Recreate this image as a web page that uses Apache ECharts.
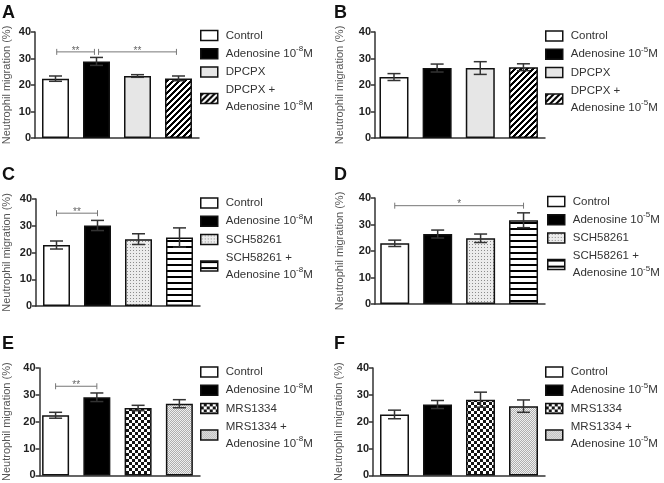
<!DOCTYPE html>
<html><head><meta charset="utf-8">
<script src="https://cdn.jsdelivr.net/npm/echarts@6/dist/echarts.min.js"></script>
<style>html,body{margin:0;padding:0;background:#fff}#c{width:664px;height:483px}</style>
</head><body><div id="c"></div>
<script>
// ---------------- data ----------------
const panelIds = ['A', 'B', 'C', 'D', 'E', 'F'];
const yTicks = [0, 10, 20, 30, 40];
const yName = 'Neutrophil migration (%)';

const labelsA = ['Control', 'Adenosine 10^-8M', 'DPCPX', 'DPCPX +\nAdenosine 10^-8M'];
const labelsB = ['Control', 'Adenosine 10^-5M', 'DPCPX', 'DPCPX +\nAdenosine 10^-5M'];
const labelsC = ['Control', 'Adenosine 10^-8M', 'SCH58261', 'SCH58261 +\nAdenosine 10^-8M'];
const labelsD = ['Control', 'Adenosine 10^-5M', 'SCH58261', 'SCH58261 +\nAdenosine 10^-5M'];
const labelsE = ['Control', 'Adenosine 10^-8M', 'MRS1334', 'MRS1334 +\nAdenosine 10^-8M'];
const labelsF = ['Control', 'Adenosine 10^-5M', 'MRS1334', 'MRS1334 +\nAdenosine 10^-5M'];

const meansA = [22.4, 28.9, 23.4, 22.5];
const semsA  = [1.0, 1.5, 0.5, 0.9];
const meansB = [23.0, 26.4, 26.4, 26.7];
const semsB  = [1.3, 1.5, 2.4, 1.3];
const meansC = [22.8, 30.1, 25.0, 25.6];
const semsC  = [1.5, 1.9, 2.0, 3.6];
const meansD = [22.9, 26.4, 24.8, 31.6];
const semsD  = [1.2, 1.5, 1.6, 2.8];
const meansE = [22.4, 29.1, 25.1, 26.7];
const semsE  = [1.1, 1.6, 1.0, 1.5];
const meansF = [22.7, 26.4, 28.2, 25.8];
const semsF  = [1.6, 1.5, 2.8, 2.3];

// significance brackets: [from group, to group, height, mark]
const sigA = [[0.03, 0.95, 32.5, '**'], [1.05, 2.95, 32.5, '**']];
const sigB = [];
const sigC = [[0.0, 1.0, 34.7, '**']];
const sigD = [[0.0, 3.0, 37.1, '*']];
const sigE = [[0.0, 1.0, 33.2, '**']];
const sigF = [];

// ---------------- styles / layout ----------------
const labelsAll = [labelsA, labelsB, labelsC, labelsD, labelsE, labelsF];
const meansAll = [meansA, meansB, meansC, meansD, meansE, meansF];
const semsAll = [semsA, semsB, semsC, semsD, semsE, semsF];
const sigAll = [sigA, sigB, sigC, sigD, sigE, sigF];
const fillsAll = [
  ['white', 'black', 'light', 'hatch'],
  ['white', 'black', 'light', 'hatch'],
  ['white', 'black', 'dots', 'hstripes'],
  ['white', 'black', 'dots', 'hstripes'],
  ['white', 'black', 'checker', 'fine'],
  ['white', 'black', 'checker', 'fine']
];
const layout = [
  {left: 35, top: 32, width: 164, height: 106, xmin: -0.5, barW: 27, lx: 200, ly: 27, tx: 2, ty: 4, ng: 23},
  {left: 375, top: 32, width: 170, height: 106, xmin: -0.44, barW: 29, lx: 545, ly: 27.5, tx: 334, ty: 4, ng: 30},
  {left: 36, top: 199, width: 164, height: 107, xmin: -0.5, barW: 27, lx: 200, ly: 194.5, tx: 2, ty: 166, ng: 24},
  {left: 375, top: 198, width: 170, height: 106, xmin: -0.46, barW: 29, lx: 547, ly: 193, tx: 334, ty: 166, ng: 30},
  {left: 39.5, top: 368, width: 160.5, height: 108, xmin: -0.39, barW: 27, lx: 200, ly: 363.5, tx: 2, ty: 335, ng: 27},
  {left: 373, top: 368, width: 172, height: 108, xmin: -0.5, barW: 29, lx: 545, ly: 363.5, tx: 334, ty: 335, ng: 29}
];

function makeTile(w, h, fn) {
  const c = document.createElement('canvas');
  c.width = w; c.height = h;
  const ctx = c.getContext('2d');
  const img = ctx.createImageData(w, h);
  for (let y = 0; y < h; y++) for (let x = 0; x < w; x++) {
    const v = fn(x, y);
    const k = (y * w + x) * 4;
    img.data[k] = v; img.data[k + 1] = v; img.data[k + 2] = v; img.data[k + 3] = 255;
  }
  ctx.putImageData(img, 0, 0);
  return {image: c, repeat: 'repeat'};
}
const fillMap = {
  white: '#ffffff',
  black: '#000000',
  light: '#e6e6e6',
  hatch: makeTile(6, 6, (x, y) => ((x + y) % 6) < 3 ? 0 : 255),
  hstripes: makeTile(1, 6, (x, y) => y < 2 ? 0 : 255),
  dots: makeTile(3, 3, (x, y) => (x === 1 && y === 1) ? 140 : 236),
  checker: makeTile(6, 6, (x, y) => ((Math.floor(x / 3) + Math.floor(y / 3)) % 2) ? 20 : 255),
  fine: makeTile(2, 2, (x, y) => ((x + y) % 2) ? 175 : 240)
};

function richLabel(s) {
  return s.replace(/\^(-\d)/g, '{s|$1}');
}

const FONT = 'Liberation Sans, Arial, Helvetica, sans-serif';
const grids = [], xAxes = [], yAxes = [], series = [], legends = [], titles = [];

panelIds.forEach((id, k) => {
  const L = layout[k];
  grids.push({left: L.left, top: L.top, width: L.width, height: L.height});
  xAxes.push({
    gridIndex: k, type: 'value', min: L.xmin, max: 3.5,
    axisLine: {show: true, onZero: false, lineStyle: {color: '#333', width: 1.5}},
    axisTick: {show: false}, axisLabel: {show: false}, splitLine: {show: false}
  });
  yAxes.push({
    gridIndex: k, type: 'value', min: yTicks[0], max: yTicks[yTicks.length - 1], interval: yTicks[1] - yTicks[0],
    name: yName, nameLocation: 'middle', nameGap: L.ng,
    nameTextStyle: {fontSize: 11, color: '#555', fontFamily: FONT},
    axisLine: {show: true, onZero: false, lineStyle: {color: '#333', width: 1.5}},
    axisTick: {show: true, length: 4, lineStyle: {color: '#333', width: 1.5}},
    axisLabel: {fontSize: 11, fontWeight: 'bold', color: '#222', margin: 4, fontFamily: FONT},
    splitLine: {show: false}
  });
  const names = [];
  meansAll[k].forEach((m, i) => {
    const nm = id + i;
    names.push(nm);
    series.push({
      type: 'bar', name: nm, xAxisIndex: k, yAxisIndex: k,
      data: [[i, m]], barWidth: L.barW, barGap: '-100%',
      itemStyle: {color: fillMap[fillsAll[k][i]], borderColor: '#111', borderWidth: 1.5},
      silent: true, animation: false, z: 2
    });
  });
  // error bars
  series.push({
    type: 'custom', xAxisIndex: k, yAxisIndex: k, silent: true, animation: false, z: 4,
    data: meansAll[k].map((m, i) => [i, m, semsAll[k][i]]),
    renderItem: function (params, api) {
      const x = api.value(0), m = api.value(1), e = api.value(2);
      const t = api.coord([x, m + e]), b = api.coord([x, m - e]);
      const hw = 6.5, st = {stroke: '#333', lineWidth: 1.5};
      return {type: 'group', children: [
        {type: 'line', shape: {x1: t[0], y1: t[1], x2: b[0], y2: b[1]}, style: st},
        {type: 'line', shape: {x1: t[0] - hw, y1: t[1], x2: t[0] + hw, y2: t[1]}, style: st},
        {type: 'line', shape: {x1: b[0] - hw, y1: b[1], x2: b[0] + hw, y2: b[1]}, style: st}
      ]};
    }
  });
  // significance brackets
  if (sigAll[k].length) {
    const sg = sigAll[k];
    series.push({
      type: 'custom', xAxisIndex: k, yAxisIndex: k, silent: true, animation: false, z: 5,
      data: sg.map(s => [s[0], s[1], s[2]]),
      renderItem: function (params, api) {
        const p1 = api.coord([api.value(0), api.value(2)]);
        const p2 = api.coord([api.value(1), api.value(2)]);
        const st = {stroke: '#777', lineWidth: 1};
        return {type: 'group', children: [
          {type: 'line', shape: {x1: p1[0], y1: p1[1], x2: p2[0], y2: p2[1]}, style: st},
          {type: 'line', shape: {x1: p1[0], y1: p1[1] - 3, x2: p1[0], y2: p1[1] + 3}, style: st},
          {type: 'line', shape: {x1: p2[0], y1: p2[1] - 3, x2: p2[0], y2: p2[1] + 3}, style: st},
          {type: 'text', style: {text: sg[params.dataIndex][3], x: (p1[0] + p2[0]) / 2, y: p1[1] + 4,
            textAlign: 'center', textVerticalAlign: 'bottom', fontSize: 10, fill: '#666', fontFamily: FONT}}
        ]};
      }
    });
  }
  const labMap = {};
  names.forEach((nm, i) => { labMap[nm] = richLabel(labelsAll[k][i]); });
  legends.push({
    orient: 'vertical', left: L.lx, top: L.ly, data: names, icon: 'rect', padding: 0,
    itemWidth: 17, itemHeight: 10, itemGap: 1.2, selectedMode: false,
    itemStyle: {borderColor: '#111', borderWidth: 1.5},
    formatter: nm => labMap[nm],
    textStyle: {fontSize: 11.5, lineHeight: 17, color: '#333', fontFamily: FONT, padding: [0, 0, 0, 3],
      rich: {s: {fontSize: 8, lineHeight: 8, verticalAlign: 'top', color: '#333', fontFamily: FONT}}}
  });
  titles.push({text: id, left: L.tx, top: L.ty, padding: 0,
    textStyle: {fontSize: 18, fontWeight: 'bold', color: '#111', fontFamily: FONT}});
});

const chart = echarts.init(document.getElementById('c'), null, {renderer: 'canvas'});
chart.setOption({
  backgroundColor: '#fff', animation: false,
  title: titles, grid: grids, xAxis: xAxes, yAxis: yAxes, legend: legends, series: series
});
</script></body></html>
